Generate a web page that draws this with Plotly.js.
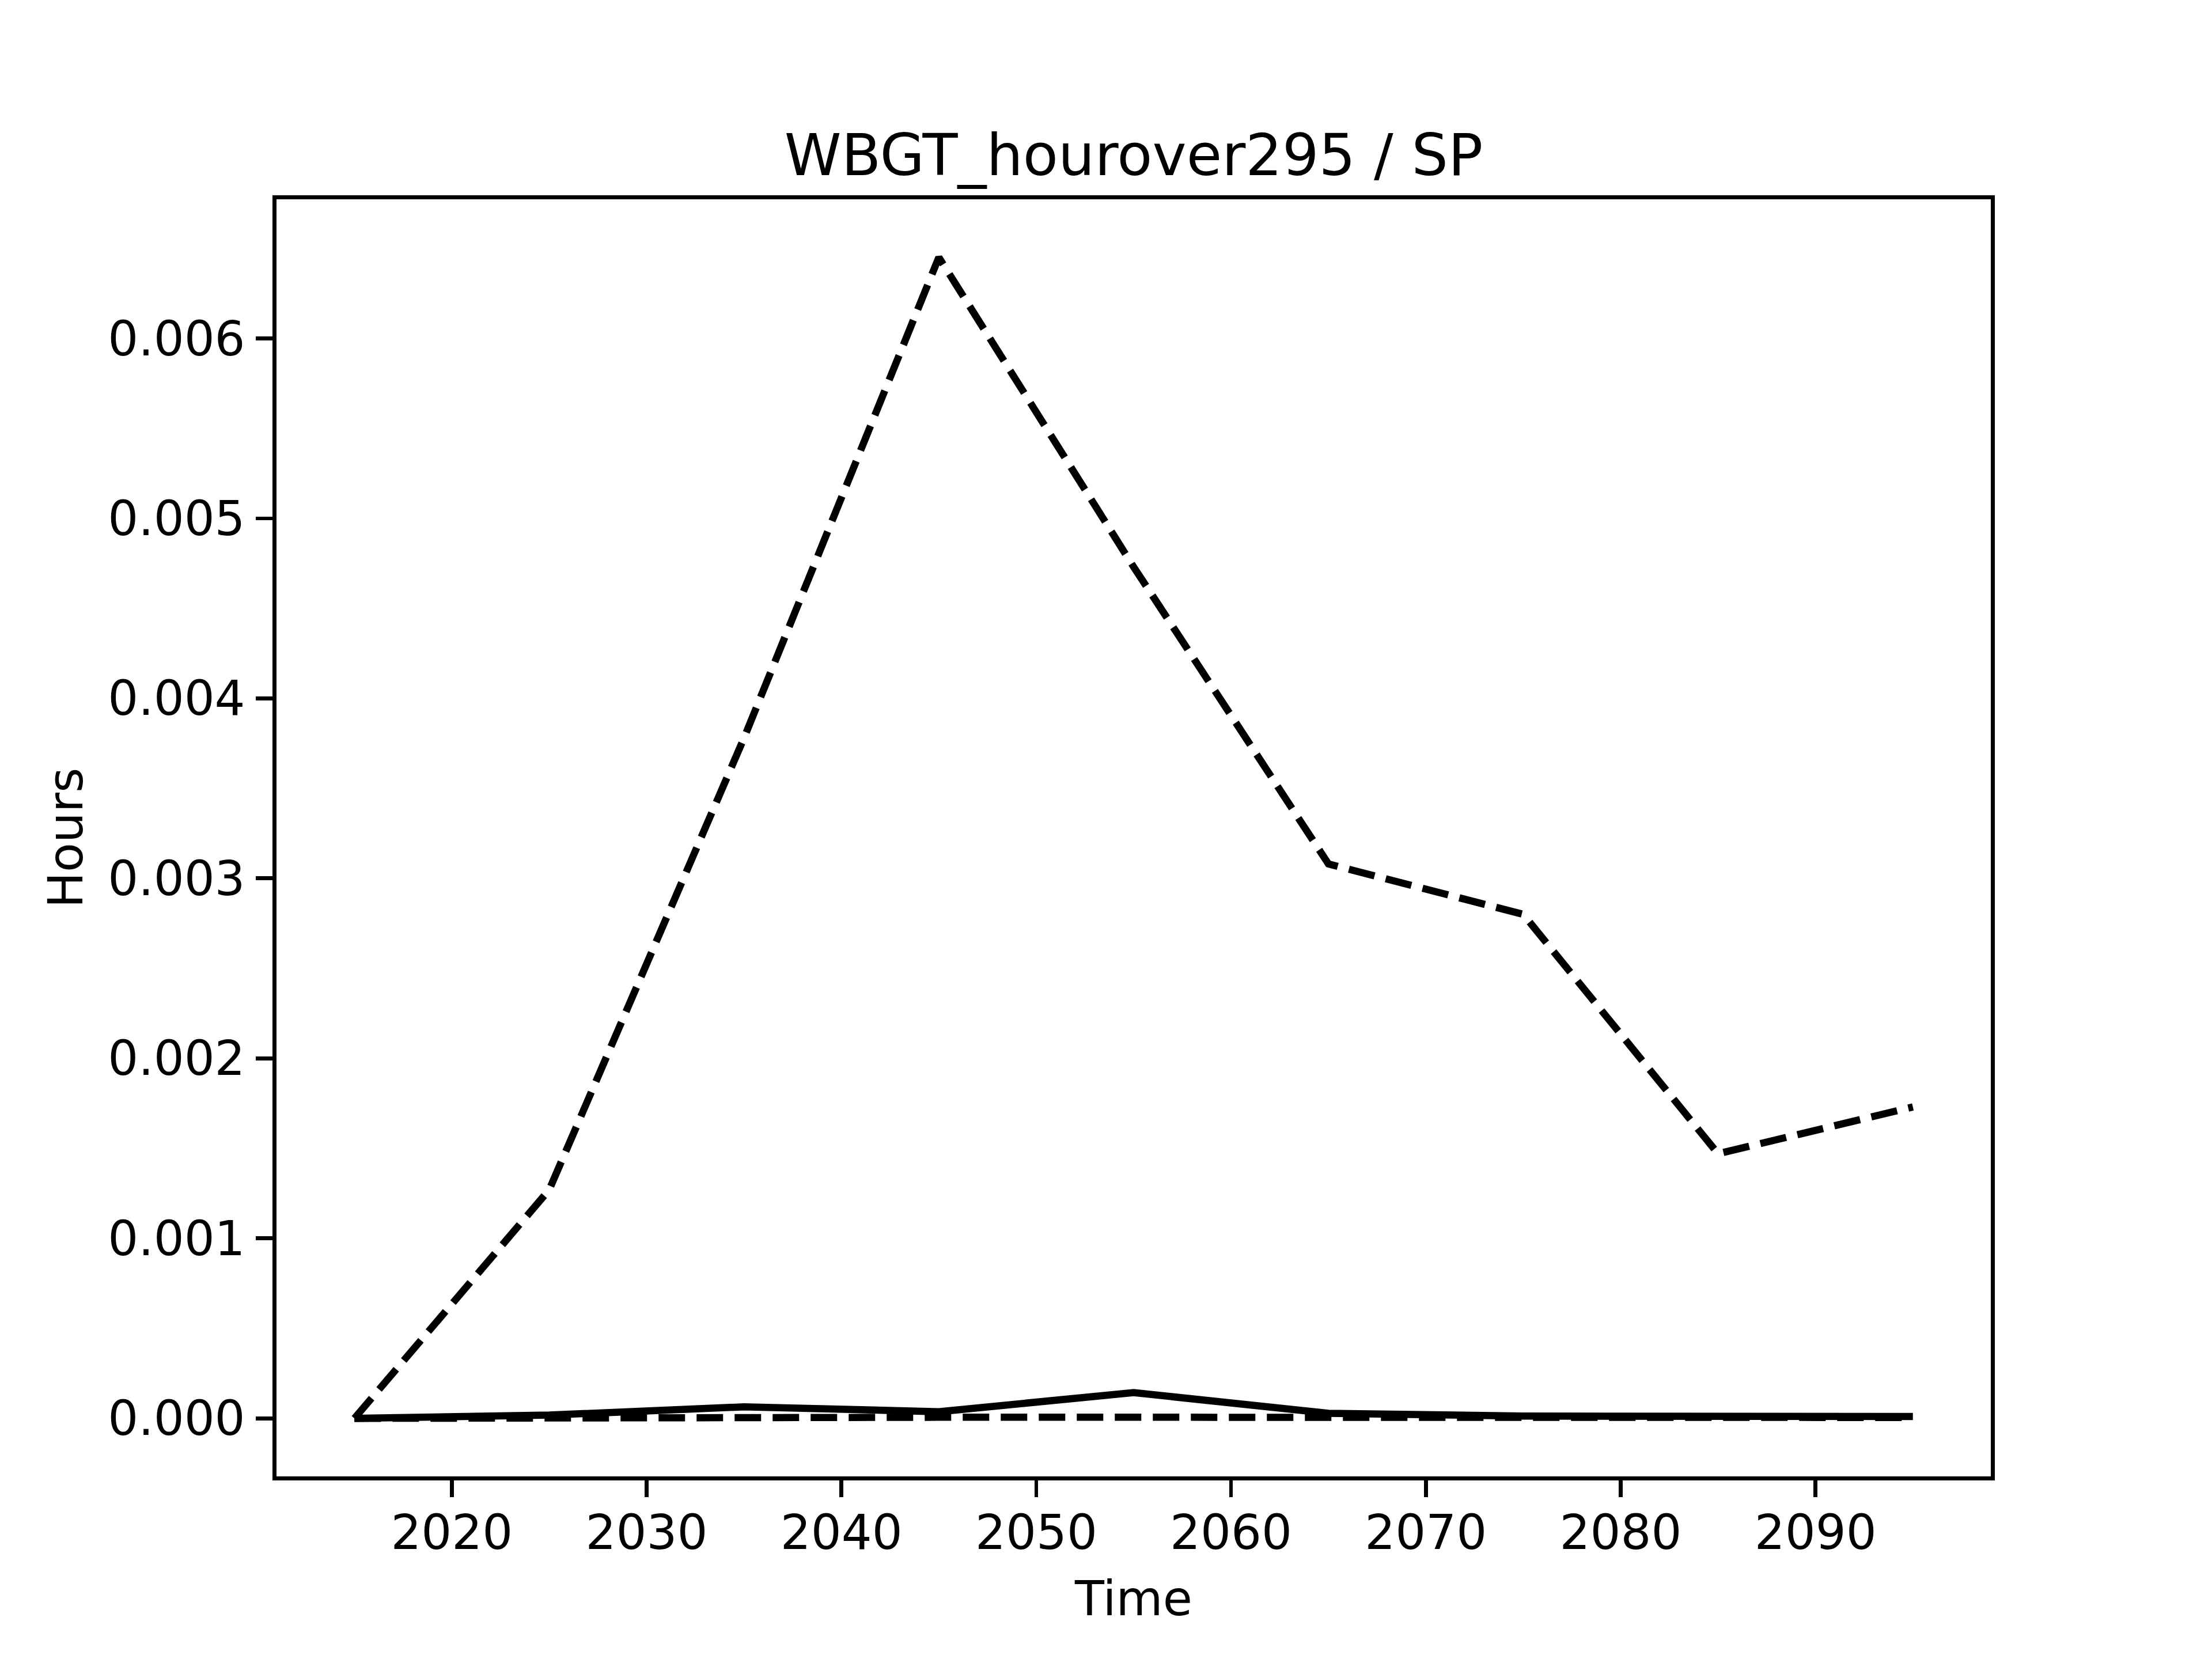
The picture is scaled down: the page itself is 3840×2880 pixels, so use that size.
<!DOCTYPE html>
<html>
<head>
<meta charset="utf-8">
<script src="https://cdn.plot.ly/plotly-3.0.1.min.js"></script>
<style>html,body{margin:0;padding:0;background:#fff;}</style>
</head>
<body>
<div id="chart" style="width:3840px;height:2880px;"></div>
<script>
const years = [2015, 2025, 2035, 2045, 2055, 2065, 2075, 2085, 2095];
const upperDashed = [0.0, 0.00127, 0.00378, 0.00645, 0.00473, 0.00308, 0.00280, 0.00147, 0.00173];
const solidLine = [0.0, 0.000018, 0.000064, 0.000037, 0.000143, 0.000028, 0.000013, 0.000011, 0.000010];
const lowerDashed = [0.0, 0.000005, 0.000006, 0.000006, 0.000006, 0.000006, 0.000005, 0.000005, 0.000005];
const xTicks = [2020, 2030, 2040, 2050, 2060, 2070, 2080, 2090];
const yTicks = [0.000, 0.001, 0.002, 0.003, 0.004, 0.005, 0.006];
const titleText = "WBGT_hourover295 / SP";
const xTitle = "Time";
const yTitle = "Hours";

const LW = 12.5;
const dash = "46px,20px";
const traces = [
  {x: years, y: upperDashed, mode: "lines", line: {color: "black", width: LW, dash: dash}, hoverinfo: "skip"},
  {x: years, y: lowerDashed, mode: "lines", line: {color: "black", width: LW, dash: dash}, hoverinfo: "skip"},
  {x: years, y: solidLine, mode: "lines", line: {color: "black", width: LW}, hoverinfo: "skip"}
];

const allY = upperDashed.concat(solidLine, lowerDashed);
const ymin = Math.min(...allY), ymax = Math.max(...allY);
const ypad = (ymax - ymin) * 0.05;
const xmin = Math.min(...years), xmax = Math.max(...years);
const xpad = (xmax - xmin) * 0.05;

const font = {family: "DejaVu Sans", color: "black"};
const layout = {
  width: 3840, height: 2880,
  margin: {l: 480, r: 384, t: 345.6, b: 316.8, pad: 0},
  paper_bgcolor: "white", plot_bgcolor: "white",
  showlegend: false,
  font: {family: "DejaVu Sans", size: 83.3, color: "black"},
  title: {
    text: titleText,
    font: Object.assign({size: 100}, font),
    x: 0.5, xref: "paper", xanchor: "center",
    y: 1, yref: "paper", yanchor: "bottom",
    pad: {b: 42}
  },
  xaxis: {
    range: [xmin - xpad, xmax + xpad],
    tickvals: xTicks, ticktext: xTicks.map(String),
    ticks: "outside", ticklen: 29, tickwidth: 6.7, tickcolor: "black",
    ticklabelstandoff: -10,
    showline: true, linewidth: 6.7, linecolor: "black", mirror: true,
    showgrid: false, zeroline: false,
    tickfont: Object.assign({size: 83.3}, font),
    title: {text: xTitle, font: Object.assign({size: 83.3}, font), standoff: 40}
  },
  yaxis: {
    range: [ymin - ypad, ymax + ypad],
    tickvals: yTicks, ticktext: yTicks.map(v => v.toFixed(3)),
    ticks: "outside", ticklen: 29, tickwidth: 6.7, tickcolor: "black",
    ticklabelstandoff: 2,
    showline: true, linewidth: 6.7, linecolor: "black", mirror: true,
    showgrid: false, zeroline: false,
    tickfont: Object.assign({size: 83.3}, font),
    title: {text: yTitle, font: Object.assign({size: 83.3}, font), standoff: 18}
  }
};
Plotly.newPlot("chart", traces, layout, {staticPlot: true, displayModeBar: false});
</script>
</body>
</html>
